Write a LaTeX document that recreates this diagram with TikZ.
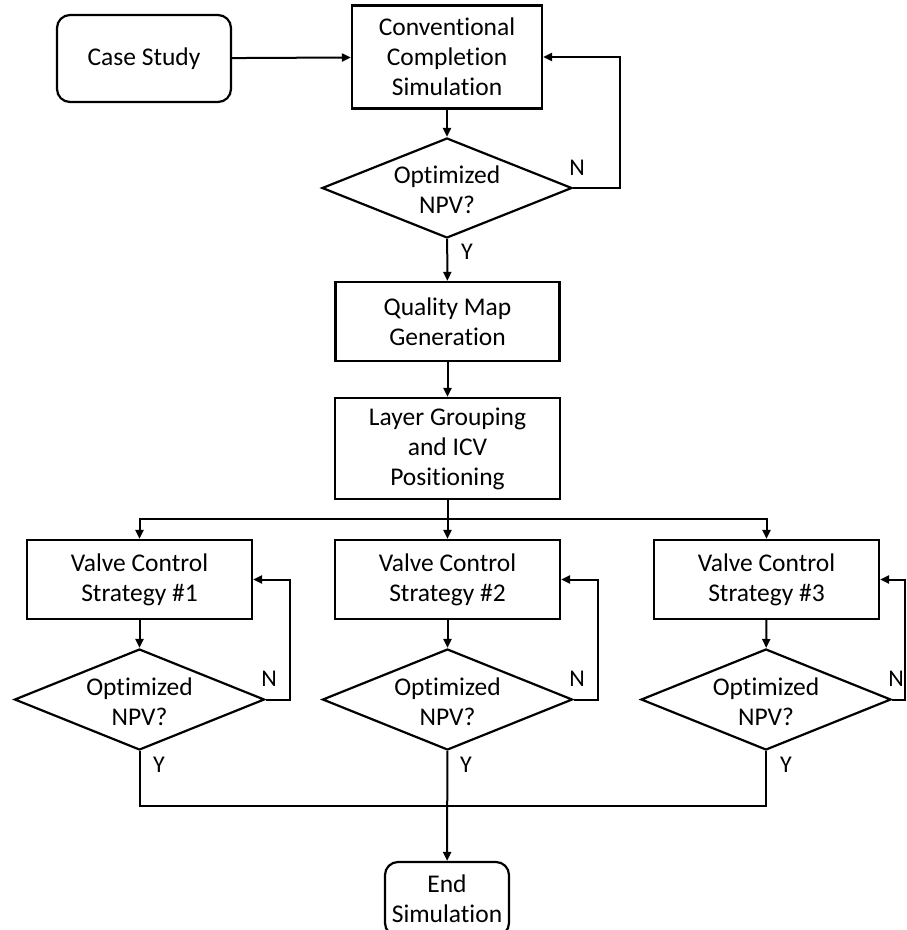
\documentclass[tikz,border=0pt]{standalone}
\usepackage{fontspec}
\setmainfont{Carlito}[Ligatures={NoCommon,NoContextual},RawFeature={-liga;-clig;-dlig;-calt}]
\usetikzlibrary{shapes.geometric,arrows.meta}
\newcommand{\dectext}[1]{\raisebox{-11pt}[0pt][0pt]{\begin{tabular}{@{}c@{}}#1\end{tabular}}}
\tikzset{
  base/.style={draw=black, line width=2.2pt, align=center, inner sep=0pt,
    font=\fontsize{25.5}{30}\selectfont},
  procbox/.style={base, rectangle},
  termbox/.style={base, rectangle, rounded corners=13pt},
  decbox/.style={base, diamond, shape aspect=2.5},
  conn/.style={line width=2pt, -{Triangle[length=9pt,width=8pt]}},
  plain/.style={line width=2pt},
  lab/.style={font=\fontsize{24}{26}\selectfont, inner sep=0pt}
}
\begin{document}
\begin{tikzpicture}[x=1pt,y=-1pt]
\useasboundingbox (0,0) rectangle (907,930);
\clip (0,0) rectangle (907,930);

\node[termbox, minimum width=174pt, minimum height=87pt] (case) at (144,58.5) {Case Study};
\node[procbox, minimum width=190pt, minimum height=103pt] (conv) at (447,57) {Conventional\\Completion\\Simulation};
\node[decbox, minimum width=250pt, minimum height=100pt] (dA) at (447,188) {\dectext{Optimized\\NPV?}};
\node[procbox, minimum width=224pt, minimum height=79pt] (qmap) at (447.5,321.5) {Quality Map\\Generation};
\node[procbox, minimum width=225pt, minimum height=101pt] (layer) at (447.5,448.5) {Layer Grouping\\and ICV\\Positioning};

\node[procbox, minimum width=225pt, minimum height=79pt] (v1) at (139.5,579.5) {Valve Control\\Strategy \#1};
\node[procbox, minimum width=225pt, minimum height=79pt] (v2) at (447.5,579.5) {Valve Control\\Strategy \#2};
\node[procbox, minimum width=225pt, minimum height=79pt] (v3) at (766.5,579.5) {Valve Control\\Strategy \#3};

\node[decbox, minimum width=250pt, minimum height=101pt] (d1) at (139.5,699.5) {\dectext{Optimized\\NPV?}};
\node[decbox, minimum width=250pt, minimum height=101pt] (d2) at (447.5,699.5) {\dectext{Optimized\\NPV?}};
\node[decbox, minimum width=250pt, minimum height=101pt] (d3) at (766,699.5) {\dectext{Optimized\\NPV?}};

\node[termbox, minimum width=124pt, minimum height=74pt] (endn) at (447,899) {End\\Simulation};

\coordinate (split) at (447.5,519);
\coordinate (merge) at (447.5,806);

% top part
\draw[conn] (case) -- (conv);
\draw[conn] (conv) -- (dA);
\draw[conn] (dA.east) -- ++(47,0) |- (conv.east);
\draw[conn] (dA) -- (qmap);
\draw[conn] (qmap) -- (layer);

% split
\draw[conn] (layer) -- (v2);
\draw[conn] (split) -| (v1.north);
\draw[conn] (split) -| (v3.north);

% valve loops
\draw[conn] (v1) -- (d1);
\draw[conn] (v2) -- (d2);
\draw[conn] (v3) -- (d3);
\draw[conn] (d1.east) -- (290,699.5) |- (v1.east);
\draw[conn] (d2.east) -- (598,699.5) |- (v2.east);
\draw[conn] (d3.east) -- (905,699.5) |- (v3.east);

% merge
\draw[plain] (d1.south) |- (merge);
\draw[plain] (d3.south) |- (merge);
\draw[conn] (d2) -- (endn);

% labels
\node[lab] (nA) at (577,168) {N};
\node[lab] (yA) at (467,252) {Y};
\node[lab] (n1) at (269,679) {N};
\node[lab] (n2) at (577,679) {N};
\node[lab] (n3) at (896,679) {N};
\node[lab] (y1) at (159,765) {Y};
\node[lab] (y2) at (466,765) {Y};
\node[lab] (y3) at (786,765) {Y};
\end{tikzpicture}
\end{document}
